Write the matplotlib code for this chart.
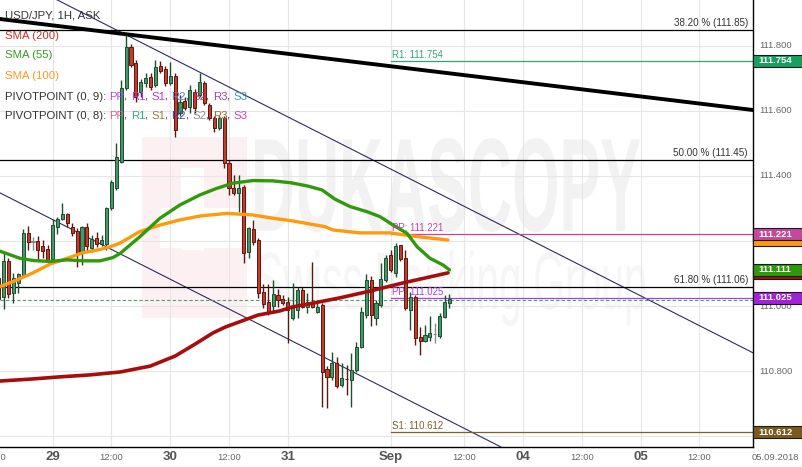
import numpy as np
import matplotlib
matplotlib.use('Agg')
import matplotlib.pyplot as plt
from matplotlib.patches import Rectangle, PathPatch
from matplotlib.textpath import TextPath
from matplotlib.font_manager import FontProperties
from matplotlib.transforms import Affine2D, IdentityTransform
from matplotlib.offsetbox import TextArea, HPacker, AnnotationBbox

plt.rcParams['font.family'] = ['Liberation Sans', 'DejaVu Sans']
NARROW = ['Liberation Sans Narrow', 'Liberation Sans', 'DejaVu Sans']

# USD/JPY 1H candles, 28 Aug 13:00 -> 3 Sep 09:00 (weekend removed)
opens = [
    111.086, 111.029, 111.139, 111.041, 111.071, 111.095, 111.225, 111.198, 111.200, 111.185,
    111.175, 111.145, 111.244, 111.267, 111.282, 111.244, 111.231, 111.164, 111.244, 111.178,
    111.208, 111.191, 111.191, 111.301, 111.362, 111.444, 111.671, 111.798, 111.748, 111.659,
    111.686, 111.705, 111.680, 111.739, 111.729, 111.685, 111.708, 111.593, 111.631, 111.613,
    111.658, 111.649, 111.685, 111.618, 111.578, 111.547, 111.578, 111.439, 111.362, 111.347,
    111.365, 111.167, 111.237, 111.203, 111.042, 111.013, 111.001, 111.034, 111.022, 111.013,
    110.962, 110.988, 111.049, 110.998, 111.011, 110.983, 111.003, 110.805, 110.782, 110.824,
    110.757, 110.776, 110.772, 110.803, 110.875, 110.972, 111.080, 110.962, 111.003, 111.080,
    111.157, 111.101, 111.188, 111.147, 110.988, 111.027, 110.904, 110.893, 110.906, 110.913,
    110.908, 110.967, 111.009]
highs = [
    111.095, 111.167, 111.148, 111.101, 111.102, 111.237, 111.246, 111.213, 111.215, 111.203,
    111.188, 111.268, 111.275, 111.316, 111.286, 111.255, 111.240, 111.246, 111.254, 111.218,
    111.227, 111.218, 111.306, 111.388, 111.502, 111.695, 111.834, 111.806, 111.757, 111.698,
    111.718, 111.718, 111.757, 111.754, 111.739, 111.751, 111.717, 111.649, 111.644, 111.680,
    111.668, 111.718, 111.692, 111.625, 111.585, 111.585, 111.585, 111.449, 111.403, 111.403,
    111.372, 111.244, 111.265, 111.209, 111.068, 111.068, 111.080, 111.052, 111.034, 111.029,
    111.070, 111.059, 111.059, 111.039, 111.136, 111.008, 111.009, 110.815, 110.860, 110.844,
    110.825, 110.818, 110.855, 110.890, 110.998, 111.098, 111.092, 111.018, 111.131, 111.157,
    111.172, 111.193, 111.188, 111.172, 111.044, 111.034, 110.936, 110.942, 110.969, 110.949,
    110.978, 111.034, 111.037]
lows = [
    111.003, 110.991, 111.025, 111.010, 111.040, 111.092, 111.172, 111.172, 111.145, 111.148,
    111.132, 111.135, 111.222, 111.265, 111.244, 111.215, 111.121, 111.126, 111.167, 111.167,
    111.181, 111.185, 111.172, 111.295, 111.357, 111.440, 111.665, 111.736, 111.629, 111.644,
    111.675, 111.665, 111.674, 111.717, 111.677, 111.680, 111.521, 111.585, 111.603, 111.594,
    111.594, 111.643, 111.618, 111.572, 111.536, 111.542, 111.425, 111.342, 111.342, 111.290,
    111.133, 111.147, 111.188, 111.025, 110.994, 110.972, 110.983, 110.998, 111.003, 110.885,
    110.957, 110.962, 110.993, 110.978, 110.993, 110.979, 110.690, 110.685, 110.772, 110.747,
    110.752, 110.726, 110.690, 110.797, 110.871, 110.963, 110.937, 110.942, 110.997, 111.074,
    111.105, 111.090, 111.137, 110.988, 110.926, 110.880, 110.849, 110.889, 110.893, 110.887,
    110.902, 110.963, 110.993]
closes = [
    111.022, 111.139, 111.037, 111.086, 111.098, 111.225, 111.198, 111.198, 111.172, 111.169,
    111.142, 111.249, 111.267, 111.282, 111.256, 111.224, 111.162, 111.244, 111.185, 111.205,
    111.191, 111.203, 111.301, 111.382, 111.459, 111.671, 111.798, 111.742, 111.644, 111.690,
    111.702, 111.675, 111.736, 111.723, 111.686, 111.708, 111.542, 111.629, 111.608, 111.665,
    111.609, 111.690, 111.626, 111.578, 111.547, 111.578, 111.439, 111.362, 111.349, 111.362,
    111.164, 111.239, 111.198, 111.039, 111.006, 110.979, 111.037, 111.018, 111.009, 110.988,
    110.993, 111.049, 110.996, 111.013, 110.998, 110.998, 110.798, 110.782, 110.824, 110.754,
    110.778, 110.774, 110.803, 110.875, 110.983, 111.080, 110.972, 111.009, 111.082, 111.147,
    111.111, 111.185, 111.144, 110.993, 111.027, 110.901, 110.893, 110.911, 110.916, 110.913,
    110.969, 111.013, 111.022]

# moving averages (bar index, price)
sma55_x = [0, 4.3, 7, 10.5, 14, 17.2, 20.7, 23.3, 24.8, 28.8, 32.9, 37, 41.1, 44.5, 47.8,
           51.9, 56, 59.7, 63.1, 66, 68.6, 71.7, 75.2, 77.8, 80.5, 83.3, 85.4, 88, 90.7, 92]
sma55_y = [111.170, 111.147, 111.140, 111.137, 111.142, 111.139, 111.139, 111.149, 111.162,
           111.213, 111.270, 111.311, 111.342, 111.362, 111.378, 111.386, 111.385, 111.379,
           111.369, 111.357, 111.329, 111.306, 111.290, 111.275, 111.249, 111.224, 111.182,
           111.147, 111.126, 111.111]
sma100_x = [0, 3.7, 7, 10.5, 14, 17.2, 20.7, 23.3, 24.8, 28.8, 32.9, 37, 41.1, 46.6, 51.9,
            56, 59.9, 62.9, 66.6, 68.2, 73.7, 79.9, 84.6, 91.7]
sma100_y = [111.058, 111.080, 111.102, 111.129, 111.147, 111.164, 111.174, 111.185, 111.194,
            111.229, 111.249, 111.265, 111.277, 111.285, 111.280, 111.270, 111.262, 111.254,
            111.244, 111.234, 111.225, 111.225, 111.215, 111.203]
sma200_x = [0, 6.4, 12.5, 18.6, 24.8, 30.9, 36, 40.1, 43.7, 46.2, 52.9, 57.4, 59.9, 64.2,
            69.6, 75.8, 82.5, 91.7]
sma200_y = [110.769, 110.775, 110.782, 110.788, 110.797, 110.815, 110.846, 110.883, 110.917,
            110.935, 110.972, 110.985, 110.997, 111.009, 111.025, 111.046, 111.071, 111.102]

sma_last = {'55': 111.111, '100': 111.203, '200': 111.102}

# trend lines: price at left edge / right edge of plot
trend_black = [111.883, 111.603]
chan_upper = [112.031, 110.856]
chan_lower = [111.348, 110.173]

fib_levels = [111.85, 111.45, 111.06]
fib_labels = ['38.20 % (111.85)', '50.00 % (111.45)', '61.80 % (111.06)']

pivots = [('R1: 111.754', 111.754, '#2aa872', '#17a05e'),
          ('PP: 111.221', 111.221, '#c0479c', '#c4499c'),
          ('PP: 111.025', 111.025, '#a640e0', '#a222d6'),
          ('S1: 110.612', 110.612, '#806028', '#7b5a20')]
ask_price = 111.017

grid_vals = [111.8, 111.6, 111.4, 111.2, 111.0, 110.8, 110.6]
ytick_vals = [111.8, 111.6, 111.4, 111.0, 110.8]   # 111.2 / 110.6 sit under the boxes
day_ticks = [11, 35, 59, 80, 107, 131]
day_labels = ['29', '30', '31', 'Sep', '04', '05']
hour_ticks = [-1, 23, 47, 95, 119, 143]

W, H = 803, 467
X0, X1 = 0.2653, 153.94
Y0, Y1 = 110.5662, 111.9415


def px2i(px):
    return (px + 1.3) / 4.9


fig = plt.figure(figsize=(W / 100, H / 100), dpi=100)
ax = fig.add_axes([0, 20 / H, 753 / W, 447 / H])
ax.set_xlim(X0, X1)
ax.set_ylim(Y0, Y1)
ax.set_xticks([])
ax.set_yticks([])
for s in ['top', 'left']:
    ax.spines[s].set_visible(False)
for s in ['bottom', 'right']:
    ax.spines[s].set_color('black')
    ax.spines[s].set_linewidth(1.0)


# watermark (logo + text), drawn in pixel coords
def wm_text(text, x0, x1, ytop, ybot, color, weight):
    tp = TextPath((0, 0), text, size=1, prop=FontProperties(family='Liberation Sans', weight=weight))
    bb = tp.get_extents()
    tr = Affine2D().translate(-bb.x0, -bb.y0).scale((x1 - x0) / bb.width, (ybot - ytop) / bb.height)
    tr = tr.translate(x0, H - ybot)
    ax.add_patch(PathPatch(tr.transform_path(tp), fc=color, ec='none',
                           transform=IdentityTransform(), zorder=0.2))


def wm_rect(x0, x1, ytop, ybot, color):
    ax.add_patch(Rectangle((x0, H - ybot), x1 - x0, ybot - ytop, fc=color, ec='none',
                           transform=IdentityTransform(), zorder=0.2))


wm_rect(142, 247, 137, 318, '#fdf0f2')
wm_rect(181, 204, 168, 250, 'white')
wm_rect(160, 247, 208, 248, 'white')
wm_text('DUKASCOPY', 255, 640, 138, 232, '#f2f2f2', 'bold')
wm_text('Swiss Banking Group', 258, 645, 250, 326, '#f6f6f6', 'normal')

# grid
for t in day_ticks + hour_ticks:
    ax.axvline(t, color='#e6e6e6', lw=0.8, zorder=0.5)
for v in grid_vals:
    ax.axhline(v, color='#e6e6e6', lw=0.8, zorder=0.5)

# trend / channel lines
ax.plot([X0, X1], chan_upper, color='#2c2c60', lw=0.8, zorder=1.5)
ax.plot([X0, X1], chan_lower, color='#2c2c60', lw=0.8, zorder=1.5)
ax.plot([X0, X1], trend_black, color='black', lw=2.8, zorder=1.6)

# fibonacci levels
for v, lab in zip(fib_levels, fib_labels):
    ax.axhline(v, color='black', lw=0.9, zorder=1.5)
    ax.text(px2i(748), v + 0.006, lab, ha='right', va='bottom', fontsize=7.1, color='#333333', zorder=6)

# pivot levels
for lab, v, lc, bc in pivots:
    ax.plot([80, X1], [v, v], color=lc, lw=0.9, zorder=1.7)
    ax.text(80.2, v + 0.003, lab, ha='left', va='bottom', fontsize=6.9, color=lc, zorder=6)

ax.axhline(ask_price, color='#4aa070', lw=0.8, ls=(0, (3, 2)), zorder=1.8)

# candles
o, hi, lo, c = map(np.array, (opens, highs, lows, closes))
idx = np.arange(len(o))
body_col, edge_col = [], []
for oo, cc in zip(o, c):
    if cc > oo:
        body_col.append('#47956a'); edge_col.append('#1c4f2c')
    elif cc < oo:
        body_col.append('#c53b2a'); edge_col.append('#5c1810')
    else:
        body_col.append('#8a8a8a'); edge_col.append('#8a8a8a')
ax.vlines(idx, lo, hi, colors=edge_col, lw=1.0, zorder=3)
ax.bar(idx, np.maximum(np.abs(c - o), 0.0005), bottom=np.minimum(o, c), width=0.62,
       color=body_col, edgecolor=edge_col, linewidth=0.7, zorder=4)

# moving averages
ax.plot(sma200_x, sma200_y, color='#a80d0d', lw=2.6, zorder=5, solid_capstyle='round')
ax.plot(sma100_x, sma100_y, color='#ff9a0e', lw=2.4, zorder=5, solid_capstyle='round')
ax.plot(sma55_x, sma55_y, color='#2f9a0c', lw=2.4, zorder=5, solid_capstyle='round')

# right price scale
for v in ytick_vals:
    ax.text(px2i(759), v, f'{v:.3f}', ha='left', va='center', fontsize=6.8, color='#666666',
            clip_on=False, zorder=7)

bx0, bx1, bh = px2i(753.5), px2i(802), 0.036


def price_box(v, fc, z, label=True):
    ax.add_patch(Rectangle((bx0, v - bh / 2), bx1 - bx0, bh, fc=fc, ec='#1a1a1a', lw=0.8,
                           clip_on=False, zorder=z))
    if label:
        ax.text(px2i(758), v, f'{v:.3f}', ha='left', va='center', fontsize=6.8, color='white',
                fontweight='bold', clip_on=False, zorder=z + 0.1)


# the SMA(100)/SMA(200) boxes are mostly hidden behind the next ones
price_box(sma_last['100'], '#ff9a0e', 8, label=False)
price_box(sma_last['200'], '#a80d0d', 8, label=False)
for lab, v, lc, bc in pivots:
    price_box(v, bc, 9)
price_box(sma_last['55'], '#2c9a0a', 9)

# x labels
xt = ax.get_xaxis_transform()
yl = -10 / 447
for t, lab in zip(day_ticks, day_labels):
    ax.text(t, yl, lab, transform=xt, ha='center', va='center', fontsize=9.5, fontweight='bold',
            color='#555555', family=NARROW, clip_on=False)
for t in hour_ticks:
    ax.text(t, yl, '12:00', transform=xt, ha='center', va='center', fontsize=6.8,
            color='#666666', family=NARROW, clip_on=False)
ax.text(px2i(775), yl, '05.09.2018', transform=xt, ha='center', va='center', fontsize=6.8,
        color='#666666', family=NARROW, clip_on=False)

# legend block
legend_rows = [
    [('USD/JPY, 1H, ASK', '#333333')],
    [('SMA (200)', '#c8302a')],
    [('SMA (55)', '#3a9a22')],
    [('SMA (100)', '#ff9a1a')],
    [('PIVOTPOINT (0, 9): ', '#333333'), ('PP', '#b04ee6'), (', ', '#333333'), ('R1', '#c13ad2'),
     (', ', '#333333'), ('S1', '#b534c8'), (', ', '#333333'), ('R2', '#6f7cc4'), (', ', '#333333'),
     ('S2', '#c2305e'), (', ', '#333333'), ('R3', '#a640b4'), (', ', '#333333'), ('S3', '#3a98b8')],
    [('PIVOTPOINT (0, 8): ', '#333333'), ('PP', '#e0609a'), (', ', '#333333'), ('R1', '#2eae7e'),
     (', ', '#333333'), ('S1', '#9a7a3a'), (', ', '#333333'), ('R2', '#3a4aa6'), (', ', '#333333'),
     ('S2', '#8a8a8a'), (', ', '#333333'), ('R3', '#9a6a30'), (', ', '#333333'), ('S3', '#d040c4')],
]
row_y = [15.5, 36, 55.5, 76, 96.5, 116]
for parts, y in zip(legend_rows, row_y):
    box = HPacker(children=[TextArea(t, textprops=dict(color=col, fontsize=8.2)) for t, col in parts],
                  align='baseline', pad=0, sep=0)
    ab = AnnotationBbox(box, (5, H - y), xycoords='figure pixels', box_alignment=(0, 0.5),
                        frameon=False, pad=0)
    ab.set_zorder(10)
    fig.add_artist(ab)

fig.savefig('out.png', dpi=100, facecolor='white')
